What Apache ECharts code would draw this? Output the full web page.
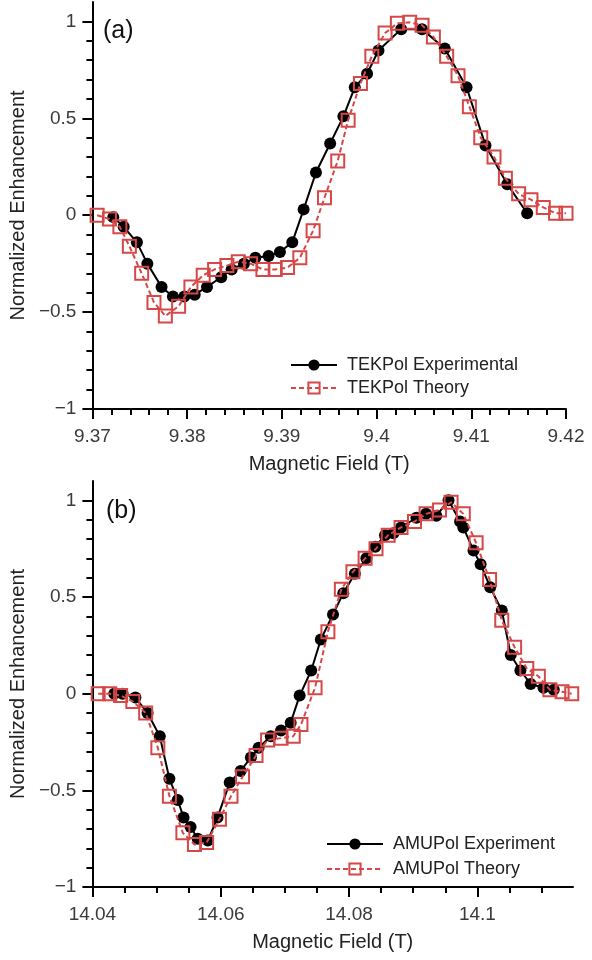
<!DOCTYPE html>
<html>
<head>
<meta charset="utf-8">
<script src="https://cdn.jsdelivr.net/npm/echarts@6/dist/echarts.min.js"></script>
<style>
html,body{margin:0;padding:0;background:#fff;}
#c{width:592px;height:960px;}
</style>
</head>
<body>
<div id="c"></div>
<script>
// ---- Panel (a): TEKPol ----
const tekExpX = [9.3722, 9.3733, 9.3747, 9.3758, 9.3773, 9.3785, 9.3797, 9.3808, 9.3821, 9.3836, 9.3847, 9.3860, 9.3872, 9.3886, 9.3898, 9.3911, 9.3923, 9.3936, 9.3951, 9.3965, 9.3977, 9.3990, 9.4002, 9.4026, 9.4048, 9.4072, 9.4095, 9.4115, 9.4138, 9.4159];
const tekExpY = [-0.01, -0.06, -0.14, -0.25, -0.37, -0.42, -0.42, -0.41, -0.37, -0.32, -0.28, -0.25, -0.22, -0.21, -0.19, -0.14, 0.03, 0.22, 0.37, 0.51, 0.66, 0.73, 0.85, 0.96, 0.96, 0.86, 0.66, 0.36, 0.16, 0.01];
const tekThX = [9.3705, 9.3718, 9.3729, 9.3739, 9.3752, 9.3765, 9.3777, 9.3791, 9.3804, 9.3817, 9.3829, 9.3842, 9.3854, 9.3867, 9.3880, 9.3893, 9.3906, 9.3919, 9.3933, 9.3945, 9.3959, 9.3970, 9.3983, 9.3995, 9.4009, 9.4022, 9.4035, 9.4048, 9.4060, 9.4074, 9.4086, 9.4098, 9.4110, 9.4124, 9.4136, 9.4150, 9.4163, 9.4176, 9.4189, 9.4200];
const tekThY = [0.0, -0.02, -0.06, -0.16, -0.30, -0.45, -0.52, -0.47, -0.37, -0.31, -0.28, -0.26, -0.24, -0.25, -0.28, -0.28, -0.27, -0.22, -0.08, 0.09, 0.28, 0.49, 0.68, 0.82, 0.94, 0.99, 0.995, 0.98, 0.92, 0.82, 0.72, 0.56, 0.40, 0.30, 0.19, 0.11, 0.08, 0.04, 0.01, 0.01];

// ---- Panel (b): AMUPol ----
const amuExpX = [14.0434, 14.0447, 14.0467, 14.0486, 14.0505, 14.0520, 14.0533, 14.0542, 14.0553, 14.0564, 14.0580, 14.0595, 14.0614, 14.0631, 14.0647, 14.0659, 14.0678, 14.0694, 14.0709, 14.0723, 14.0741, 14.0756, 14.0775, 14.0791, 14.0809, 14.0827, 14.0841, 14.0856, 14.0869, 14.0881, 14.0905, 14.0920, 14.0936, 14.0955, 14.0973, 14.0978, 14.0994, 14.1005, 14.1020, 14.1038, 14.1052, 14.1067, 14.1083, 14.1103, 14.1119];
const amuExpY = [0.0, 0.0, -0.02, -0.10, -0.22, -0.44, -0.55, -0.64, -0.69, -0.75, -0.76, -0.64, -0.46, -0.40, -0.33, -0.28, -0.22, -0.19, -0.15, -0.01, 0.12, 0.28, 0.41, 0.52, 0.62, 0.70, 0.76, 0.82, 0.83, 0.86, 0.91, 0.93, 0.92, 1.0, 0.89, 0.86, 0.74, 0.67, 0.55, 0.43, 0.20, 0.12, 0.05, 0.03, 0.02];
const amuThX = [14.0409, 14.0427, 14.0444, 14.0463, 14.0483, 14.0502, 14.0520, 14.0541, 14.0559, 14.0578, 14.0598, 14.0616, 14.0634, 14.0655, 14.0673, 14.0694, 14.0713, 14.0725, 14.0747, 14.0767, 14.0788, 14.0806, 14.0825, 14.0842, 14.0861, 14.0881, 14.0902, 14.0920, 14.0941, 14.0959, 14.0978, 14.0998, 14.1019, 14.1038, 14.1058, 14.1077, 14.1095, 14.1113, 14.1132, 14.1147];
const amuThY = [0.0, 0.0, -0.01, -0.04, -0.10, -0.28, -0.53, -0.72, -0.78, -0.77, -0.65, -0.53, -0.43, -0.32, -0.24, -0.23, -0.22, -0.16, 0.03, 0.32, 0.54, 0.63, 0.70, 0.75, 0.82, 0.86, 0.89, 0.93, 0.95, 0.99, 0.93, 0.78, 0.59, 0.38, 0.24, 0.13, 0.09, 0.02, 0.01, 0.0];

// ---- Tick labels ----
const yTicks = [-1, -0.5, 0, 0.5, 1];
const yTickLabels = ['\u22121', '\u22120.5', '0', '0.5', '1'];
const tekTicks = [9.37, 9.38, 9.39, 9.40, 9.41, 9.42];
const tekTickLabels = ['9.37', '9.38', '9.39', '9.4', '9.41', '9.42'];
const amuTicks = [14.04, 14.06, 14.08, 14.10];
const amuTickLabels = ['14.04', '14.06', '14.08', '14.1'];

const seriesNames = ['TEKPol Experimental', 'TEKPol Theory', 'AMUPol Experiment', 'AMUPol Theory'];
const yTitle = 'Normalized Enhancement';
const xTitle = 'Magnetic Field (T)';

const RED = '#d64848';
const FONT = 'Liberation Sans, Arial, sans-serif';

function zip(xs, ys) { return xs.map((x, i) => [x, ys[i]]); }
function lookup(vals, labels) {
  return function (v) {
    for (let i = 0; i < vals.length; i++) if (Math.abs(vals[i] - v) < 1e-6) return labels[i];
    return '';
  };
}

function xAxisCfg(idx, min, max, interval, ticks, labels) {
  return {
    type: 'value', gridIndex: idx, min: min, max: max, interval: interval,
    name: xTitle, nameLocation: 'middle', nameGap: 45,
    nameTextStyle: { fontFamily: FONT, fontSize: 20, color: '#222' },
    axisLine: { show: true, onZero: false, lineStyle: { color: '#000', width: 2 } },
    axisTick: { show: true, inside: false, length: 10, customValues: ticks, lineStyle: { color: '#000', width: 2 } },
    minorTick: { show: true, splitNumber: idx === 0 ? 5 : 4, length: 6, lineStyle: { color: '#000', width: 2 } },
    axisLabel: { margin: 18, customValues: ticks, formatter: lookup(ticks, labels), fontFamily: FONT, fontSize: 19, color: '#3a3a3a' },
    splitLine: { show: false }
  };
}
function yAxisCfg(idx) {
  return {
    type: 'value', gridIndex: idx, min: -1, max: 1.1, interval: 0.5,
    name: yTitle, nameLocation: 'middle', nameGap: 58, nameRotate: 90,
    nameTextStyle: { fontFamily: FONT, fontSize: 20, color: '#222' },
    axisLine: { show: true, onZero: false, lineStyle: { color: '#000', width: 2 } },
    axisTick: { show: true, inside: false, length: 10, customValues: yTicks, lineStyle: { color: '#000', width: 2 } },
    minorTick: { show: true, splitNumber: 5, length: 6, lineStyle: { color: '#000', width: 2 } },
    axisLabel: { margin: 16, customValues: yTicks, formatter: lookup(yTicks, yTickLabels), fontFamily: FONT, fontSize: 19, color: '#3a3a3a' },
    splitLine: { show: false }
  };
}

function expSeries(name, idx, data) {
  return {
    name: name, type: 'line', xAxisIndex: idx, yAxisIndex: idx, data: data,
    symbol: 'circle', symbolSize: 12, showAllSymbol: true,
    itemStyle: { color: '#000' },
    lineStyle: { color: '#000', width: 2 },
    z: 2, animation: false
  };
}
function thSeries(name, idx, data) {
  return {
    name: name, type: 'line', xAxisIndex: idx, yAxisIndex: idx, data: data,
    symbol: 'rect', symbolSize: 13, showAllSymbol: true,
    itemStyle: { color: 'rgba(255,255,255,0)', borderColor: RED, borderWidth: 2 },
    lineStyle: { color: RED, width: 2, type: [5, 3] },
    z: 3, animation: false
  };
}

const chart = echarts.init(document.getElementById('c'), null, { renderer: 'canvas' });
chart.setOption({
  animation: false,
  backgroundColor: '#fff',
  title: [
    { text: '(a)', left: 98, top: 14, textStyle: { fontFamily: FONT, fontSize: 25, fontWeight: 'normal', color: '#111' } },
    { text: '(b)', left: 101, top: 494, textStyle: { fontFamily: FONT, fontSize: 25, fontWeight: 'normal', color: '#111' } }
  ],
  grid: [
    { left: 87, right: 26, top: 2, height: 407, containLabel: false },
    { left: 90, right: 19, top: 481, height: 406, containLabel: false }
  ],
  xAxis: [
    xAxisCfg(0, 9.37, 9.42, 0.01, tekTicks, tekTickLabels),
    xAxisCfg(1, 14.04, 14.1149, 0.02, amuTicks, amuTickLabels)
  ],
  yAxis: [yAxisCfg(0), yAxisCfg(1)],
  legend: [
    { data: [seriesNames[0], seriesNames[1]], orient: 'vertical', left: 285, top: 351, itemWidth: 46, itemHeight: 14, itemGap: 5,
      formatter: n => ' ' + n,
      textStyle: { fontFamily: FONT, fontSize: 18, color: '#222' } },
    { data: [seriesNames[2], seriesNames[3]], orient: 'vertical', left: 321, top: 830, itemWidth: 56, itemHeight: 14, itemGap: 7,
      formatter: n => ' ' + n,
      textStyle: { fontFamily: FONT, fontSize: 18, color: '#222' } }
  ],
  series: [
    expSeries(seriesNames[0], 0, zip(tekExpX, tekExpY)),
    thSeries(seriesNames[1], 0, zip(tekThX, tekThY)),
    expSeries(seriesNames[2], 1, zip(amuExpX, amuExpY)),
    thSeries(seriesNames[3], 1, zip(amuThX, amuThY))
  ]
});
</script>
</body>
</html>
